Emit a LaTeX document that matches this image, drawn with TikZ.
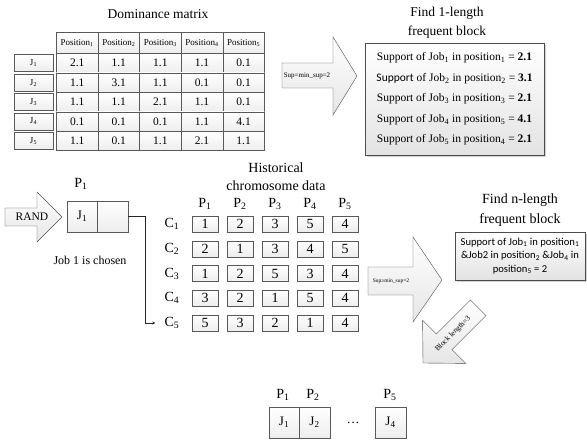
\documentclass[tikz,border=0pt]{standalone}
\usepackage{fontspec}
\setmainfont{Liberation Serif}
\setsansfont{Carlito}
\usetikzlibrary{matrix,positioning,shadows}
\tikzset{>=stealth}
\tikzset{
  cell/.style={draw=gray!70!black, top color=white, bottom color=gray!14, inner sep=0pt},
  jbox/.style={cell, minimum width=39, minimum height=17, font=\rmfamily\fontsize{9}{10}\selectfont},
  gene/.style={cell, minimum width=26, minimum height=16, font=\rmfamily\fontsize{14}{14}\selectfont},
  slot/.style={cell, minimum width=30.5, minimum height=31, font=\rmfamily\fontsize{13}{14}\selectfont},
  lbl/.style={font=\rmfamily\fontsize{14}{14}\selectfont, inner sep=0pt},
  title/.style={font=\rmfamily\fontsize{13.5}{19}\selectfont, align=center, inner sep=0pt},
  bigarrow/.style={draw=gray!60!black, top color=white, bottom color=gray!20},
  arrowtext/.style={font=\rmfamily\fontsize{7}{8}\selectfont, inner sep=0pt},
  result/.style={draw=gray!60!black, top color=white, bottom color=gray!22, align=center, inner sep=0pt,
    drop shadow={shadow xshift=2pt, shadow yshift=-2pt, opacity=0.35}},
}
\begin{document}
\begin{tikzpicture}[x=1pt,y=-1pt]
  \useasboundingbox (0,0) rectangle (587,441);

  % dominance matrix
  \node[title] (domtitle) at (158,14) {Dominance matrix};
  \matrix (dom) [matrix of nodes, anchor=north west, inner sep=0pt, column sep=-0.4pt, row sep=-0.4pt,
    nodes={cell, minimum width=41.6, minimum height=19.4, font=\rmfamily\fontsize{11.5}{12}\selectfont},
    row 1/.style={nodes={minimum height=21, font=\rmfamily\fontsize{9}{10}\selectfont}}] at (56,32) {
    Position\textsubscript{1} & Position\textsubscript{2} & Position\textsubscript{3} & Position\textsubscript{4} & Position\textsubscript{5} \\
    2.1 & 1.1 & 1.1 & 1.1 & 0.1 \\
    1.1 & 3.1 & 1.1 & 0.1 & 0.1 \\
    1.1 & 1.1 & 2.1 & 1.1 & 0.1 \\
    0.1 & 0.1 & 0.1 & 1.1 & 4.1 \\
    1.1 & 0.1 & 1.1 & 2.1 & 1.1 \\
  };
  \foreach \r in {1,...,5} {
    \pgfmathtruncatemacro\rr{\r+1}
    \node[jbox, left=3pt of dom-\rr-1] (job\r) {J\textsubscript{\r}};
  }

  % 1-length blocks
  \draw[bigarrow] (282,63) -- (333,63) -- (333,37) -- (357,76) -- (333,115) -- (333,88) -- (282,88) -- cycle;
  \node[arrowtext] (sup1) at (307,76) {Sup=min\_sup=2};
  \node[title] (find1) at (447,22.5) {Find 1-length\\frequent block};
  \node[result, minimum width=179, minimum height=112, font=\rmfamily\fontsize{11.5}{20.5}\selectfont] (freq1) at (454.5,99) {
    Support of Job\textsubscript{1} in position\textsubscript{1} = \textbf{2.1}\\
    {\sffamily Support} of Job\textsubscript{2} in position\textsubscript{2} = \textbf{3.1}\\
    Support of Job\textsubscript{3} in position\textsubscript{3} = \textbf{2.1}\\
    Support of Job\textsubscript{4} in position\textsubscript{5} = \textbf{4.1}\\
    Support of Job\textsubscript{5} in position\textsubscript{4} = \textbf{2.1}};

  % random first job
  \draw[bigarrow] (5,208) -- (37,208) -- (37,192) -- (62,217) -- (37,242) -- (37,226) -- (5,226) -- cycle;
  \node[font=\rmfamily\fontsize{11.5}{12}\selectfont, inner sep=0pt] (rand) at (32,217) {RAND};
  \node[lbl] (p1top) at (81,184) {P\textsubscript{1}};
  \node[slot] (pick1) at (82,216.5) {J\textsubscript{1}};
  \node[slot, right=-0.4pt of pick1] (pick2) {};
  \node[font=\rmfamily\fontsize{12}{12}\selectfont, inner sep=0pt] (chosen) at (90,260) {Job 1 is chosen};

  % historical chromosomes
  \node[title, font=\rmfamily\fontsize{14}{18}\selectfont] (histtitle) at (276,177) {Historical\\chromosome data};
  \foreach \c in {1,...,5}
    \node[lbl] (pc\c) at ({205+35*(\c-1)},204) {P\textsubscript{\c}};
  \foreach \r/\genes in {1/{1,2,3,5,4},2/{2,1,3,4,5},3/{1,2,5,3,4},4/{3,2,1,5,4},5/{5,3,2,1,4}} {
    \node[lbl] (cr\r) at (172,{224+24.75*(\r-1)}) {C\textsubscript{\r}};
    \foreach \g [count=\c] in \genes
      \node[gene] (g\r-\c) at ({205+35*(\c-1)},{224+24.75*(\r-1)}) {\g};
  }
  \draw[->, gray!30!black, shorten >=9pt] (pick2.east) -- ++(17,0) |- (cr5.west);

  % n-length blocks
  \draw[bigarrow] (368,267) -- (413,267) -- (413,237) -- (442,280) -- (413,322) -- (413,295) -- (368,295) -- cycle;
  \node[arrowtext, font=\rmfamily\fontsize{5.5}{6}\selectfont] (sup2) at (391,281) {Sup≥min\_sup=2};
  \node[title, font=\rmfamily\fontsize{14}{20}\selectfont] (findn) at (520,210) {Find n-length\\frequent block};
  \node[result, minimum width=130, minimum height=48, font=\sffamily\fontsize{10.6}{13.5}\selectfont] (freqn) at (520,256) {
    Support of Job\textsubscript{1} in position\textsubscript{1}\\
    \&Job2 in position\textsubscript{2} \&Job\textsubscript{4} in\\
    position\textsubscript{5} = 2};
  \draw[bigarrow] (470.4,300) -- (436.4,334) -- (422.6,320.2) -- (423,363) -- (465.8,363.4) -- (452,349.6) -- (486,315.6) -- cycle;
  \node[arrowtext, rotate=45, font=\rmfamily\fontsize{7.5}{8}\selectfont] (blocklen) at (453,334) {Block length=3};

  % resulting block
  \node[lbl] (pb1) at (283,395) {P\textsubscript{1}};
  \node[lbl] (pb2) at (313,395) {P\textsubscript{2}};
  \node[lbl] (pb5) at (390,395) {P\textsubscript{5}};
  \node[slot] (blk1) at (284,422.5) {J\textsubscript{1}};
  \node[slot, right=-0.4pt of blk1] (blk2) {J\textsubscript{2}};
  \node[font=\rmfamily\fontsize{13}{14}\selectfont, inner sep=0pt] (dots) at (353,423) {\dots};
  \node[slot] (blk5) at (390.5,422.5) {J\textsubscript{4}};
\end{tikzpicture}
\end{document}
